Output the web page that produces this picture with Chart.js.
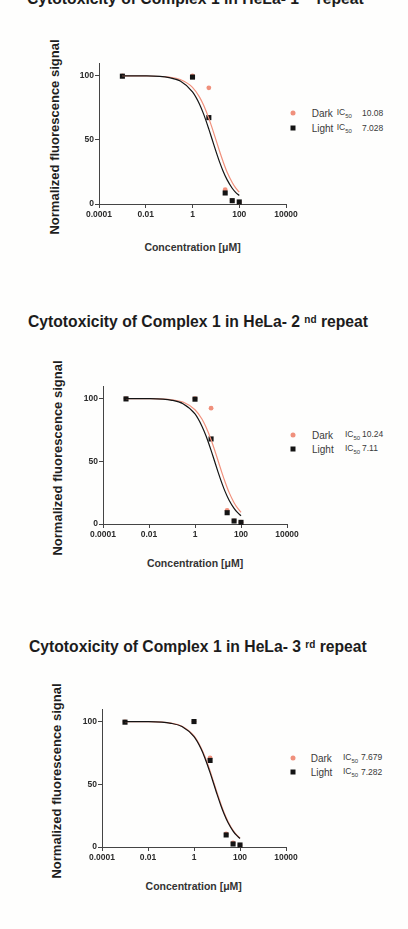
<!DOCTYPE html>
<html><head><meta charset="utf-8">
<script src="https://cdn.jsdelivr.net/npm/chart.js@4.4.1/dist/chart.umd.min.js"></script>
<style>
html,body{margin:0;padding:0;background:#fefefd;}
body{width:408px;height:929px;position:relative;overflow:hidden;font-family:"Liberation Sans",Arial,sans-serif;}
canvas{position:absolute;left:0;}
.title{position:absolute;font-weight:bold;font-size:15.7px;line-height:1;color:#1c1c1c;white-space:nowrap;}
.title sup{font-size:10px;vertical-align:baseline;position:relative;top:-4.5px;}
.ytitle{position:absolute;font-weight:bold;font-size:13px;color:#1e1e1e;white-space:nowrap;transform:translate(-50%,-50%) rotate(-90deg);}
.xtitle{position:absolute;font-weight:bold;font-size:10.5px;color:#333;white-space:nowrap;transform:translate(-50%,-50%);}
.lt{position:absolute;font-size:10px;color:#3a3a3a;white-space:nowrap;transform:translateY(-50%);}
.ic{position:absolute;font-size:8.5px;color:#3a3a3a;white-space:nowrap;transform:translateY(-50%);}
.ic sub{font-size:6px;}
.mk{position:absolute;transform:translate(-50%,-50%);}
</style>
</head><body>
<div id="root"></div>
<script>
// ---------- data ----------
const concentrations = [0.001, 1, 5, 25, 50, 100];
const seriesNames = ['Dark', 'Light'];
const xTickValues = [0.0001, 0.01, 1, 100, 10000];
const xTickLabels = ['0.0001', '0.01', '1', '100', '10000'];
const yTickValues = [0, 50, 100];
const yTickLabels = ['0', '50', '100'];

const ordinalNum = ['1', '2', '3'];
const ordinalSup = ['st', 'nd', 'rd'];

// repeat 1
const darkP1  = [100, 100, 90.6, 11.2, 2.5, 1.5];
const lightP1 = [99.7, 99, 67.4, 8.6, 2.6, 1.6];
const icP1 = ['10.08', '7.028'];
// repeat 2
const darkP2  = [100, 100, 92.3, 10.9, 2.5, 1.4];
const lightP2 = [99.7, 99.5, 67.8, 9.0, 2.4, 1.3];
const icP2 = ['10.24', '7.11'];
// repeat 3
const darkP3  = [99.8, 100, 71, 10.4, 3.2, 1.5];
const lightP3 = [99.5, 100, 69, 9.6, 2.4, 1.6];
const icP3 = ['7.679', '7.282'];

// fitted curves
const curveConc = [0.001, 0.01, 0.1, 0.3, 1, 2, 3, 5, 7, 10, 15, 20, 30, 50, 70, 100];
const darkCurveP1  = [100, 99.9, 99.0, 97.1, 91.0, 83.4, 77.0, 66.8, 59.0, 50.2, 40.2, 33.5, 25.0, 16.8, 12.6, 9.2];
const lightCurveP1 = [100, 99.9, 98.6, 95.9, 87.5, 77.9, 70.1, 58.4, 50.1, 41.3, 31.9, 26.0, 19.0, 12.3, 9.1, 6.6];
const darkCurveP2  = [100, 99.9, 99.0, 97.2, 91.1, 83.7, 77.3, 67.2, 59.4, 50.6, 40.6, 33.9, 25.4, 17.0, 12.8, 9.3];
const lightCurveP2 = [100, 99.9, 98.6, 95.9, 87.7, 78.0, 70.3, 58.7, 50.4, 41.6, 32.2, 26.2, 19.2, 12.5, 9.2, 6.6];
const darkCurveP3  = [100, 99.9, 98.7, 96.2, 88.5, 79.3, 71.9, 60.6, 52.3, 43.4, 33.9, 27.7, 20.4, 13.3, 9.9, 7.1];
const lightCurveP3 = [100, 99.9, 98.6, 96.0, 87.9, 78.5, 70.8, 59.3, 51.0, 42.1, 32.7, 26.7, 19.5, 12.7, 9.4, 6.8];

// ---------- layout (positions/styles only) ----------
const DARK = '#f0907c', LIGHT = '#141414';
const FONT = '"Liberation Sans", Arial, sans-serif';
const panels = [
  {dark: darkP1, light: lightP1, dc: darkCurveP1, lc: lightCurveP1, ic: icP1,
   canvasTop: 0, axisTop: 63, axisBottom: 204, axisLeft: 99, axisRight: 286,
   titleX: 27, titleBase: 4, yT: [53.5, 136.7], xT: [192.5, 246.7],
   leg: {mx: 292.7, y: [113.3, 128.3], tx: 311.7, icx: 336.7, vx: 362}},
  {dark: darkP2, light: lightP2, dc: darkCurveP2, lc: lightCurveP2, ic: icP2,
   canvasTop: 330, axisTop: 386, axisBottom: 524, axisLeft: 103, axisRight: 287,
   titleX: 28, titleBase: 327.7, yT: [57, 458], xT: [195, 562.7],
   leg: {mx: 293, y: [434.7, 448.7], tx: 312, icx: 345, vx: 362}},
  {dark: darkP3, light: lightP3, dc: darkCurveP3, lc: lightCurveP3, ic: icP3,
   canvasTop: 650, axisTop: 709, axisBottom: 847, axisLeft: 102, axisRight: 286,
   titleX: 29, titleBase: 652.7, yT: [55.7, 781], xT: [193.7, 886],
   leg: {mx: 292.7, y: [757.7, 772.3], tx: 310.7, icx: 343, vx: 361}}
];

const root = document.getElementById('root');
function el(tag, cls, html, style) {
  const e = document.createElement(tag);
  if (cls) e.className = cls;
  if (html != null) e.innerHTML = html;
  Object.assign(e.style, style || {});
  root.appendChild(e);
  return e;
}

const X_H = 26, Y_W = 40;
panels.forEach((p, k) => {
  // title
  el('div', 'title', 'Cytotoxicity of Complex 1 in HeLa- ' + ordinalNum[k] + ' <sup>' + ordinalSup[k] + '</sup> repeat',
     {left: p.titleX + 'px', top: (p.titleBase - 13.3) + 'px'});
  el('div', 'ytitle', 'Normalized fluorescence signal', {left: p.yT[0] + 'px', top: p.yT[1] + 'px'});
  el('div', 'xtitle', 'Concentration [\u03bcM]', {left: p.xT[0] + 'px', top: p.xT[1] + 'px'});
  // legend
  seriesNames.forEach((name, j) => {
    const y = p.leg.y[j];
    const st = j === 0
      ? {width: '5px', height: '5px', borderRadius: '50%', background: DARK}
      : {width: '5px', height: '5px', background: LIGHT};
    el('div', 'mk', '', Object.assign({left: p.leg.mx + 'px', top: y + 'px'}, st));
    el('div', 'lt', name, {left: p.leg.tx + 'px', top: y + 'px'});
    el('div', 'ic', 'IC<sub>50</sub>', {left: p.leg.icx + 'px', top: y + 'px'});
    el('div', 'ic', p.ic[j], {left: p.leg.vx + 'px', top: (y - 0.5) + 'px'});
  });

  // chart
  const cv = document.createElement('canvas');
  const H = p.axisBottom + X_H - p.canvasTop;
  cv.width = 408; cv.height = H;
  cv.style.top = p.canvasTop + 'px';
  cv.style.width = '408px'; cv.style.height = H + 'px';
  root.appendChild(cv);

  const pts = arr => concentrations.map((x, i) => ({x, y: arr[i]}));
  const cpts = arr => curveConc.map((x, i) => ({x, y: arr[i]}));

  new Chart(cv, {
    type: 'scatter',
    data: {datasets: [
      {label: 'Light fit', data: cpts(p.lc), showLine: true, borderColor: LIGHT, borderWidth: 1.2,
       pointRadius: 0, cubicInterpolationMode: 'monotone', order: 0, clip: false},
      {label: 'Dark fit', data: cpts(p.dc), showLine: true, borderColor: DARK, borderWidth: 1.2,
       pointRadius: 0, cubicInterpolationMode: 'monotone', order: 1, clip: false},
      {label: 'Light', data: pts(p.light), pointStyle: 'rect', pointRadius: 3.6,
       backgroundColor: LIGHT, borderColor: LIGHT, borderWidth: 0, order: 2, clip: false},
      {label: 'Dark', data: pts(p.dark), pointStyle: 'circle', pointRadius: 2.4,
       backgroundColor: DARK, borderColor: DARK, borderWidth: 0, order: 3, clip: false}
    ]},
    options: {
      responsive: false, animation: false, devicePixelRatio: 1,
      layout: {padding: {left: p.axisLeft - Y_W, right: 408 - p.axisRight, top: p.axisTop - p.canvasTop, bottom: 0}},
      plugins: {legend: {display: false}, tooltip: {enabled: false}},
      scales: {
        x: {type: 'logarithmic', min: xTickValues[0], max: xTickValues[xTickValues.length - 1],
            afterBuildTicks: s => { s.ticks = xTickValues.map(v => ({value: v})); },
            afterFit: s => { s.height = X_H; },
            grid: {drawOnChartArea: false, drawTicks: true, tickLength: 4, color: '#444', lineWidth: 1},
            border: {display: true, color: '#444', width: 1},
            ticks: {font: {family: FONT, size: 8.5, weight: 'bold'}, color: '#2a2a2a', padding: 2,
                    maxRotation: 0, autoSkip: false, callback: (v, i) => xTickLabels[i]}},
        y: {min: 0, max: 110,
            afterBuildTicks: s => { s.ticks = yTickValues.map(v => ({value: v})); },
            afterFit: s => { s.width = Y_W; },
            grid: {drawOnChartArea: false, drawTicks: true, tickLength: 4, color: '#444', lineWidth: 1},
            border: {display: true, color: '#444', width: 1},
            ticks: {font: {family: FONT, size: 8.5, weight: 'bold'}, color: '#2a2a2a', padding: 1,
                    autoSkip: false, callback: (v, i) => yTickLabels[i]}}
      }
    }
  });
});
</script>
</body></html>
